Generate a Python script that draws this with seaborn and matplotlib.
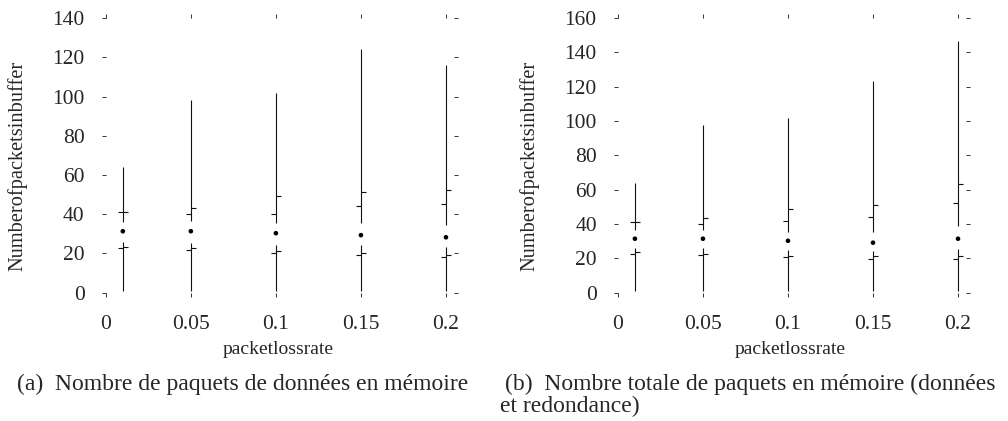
import seaborn as sns
import matplotlib.pyplot as plt
import pandas as pd
import numpy as np

# Minimal (Tufte-style) box plots: packets in buffer vs packet loss rate

loss_rate = [0.01, 0.05, 0.1, 0.15, 0.2]

# (a) data packets in buffer
a_min = [1, 1, 1, 1, 1]
a_gap_low = [26.0, 25.5, 24.3, 24.3, 23.5]
a_median = [31.3, 31.3, 30.3, 29.3, 28.2]
a_gap_high = [36.2, 36.7, 35.7, 35.7, 34.4]
a_max = [64.3, 98.3, 102.0, 124.1, 116.0]
a_low_left = [22.8, 21.8, 20.4, 19.4, 18.4]
a_low_right = [23.1, 22.6, 21.4, 20.4, 19.4]
a_high_left = [41.3, 40.3, 40.3, 44.2, 45.4]
a_high_right = [41.3, 43.4, 49.3, 51.2, 52.2]

# (b) total packets in buffer (data + redundancy)
b_min = [1, 1, 1, 1, 1]
b_gap_low = [25.8, 25.8, 24.8, 24.4, 25.2]
b_median = [31.4, 31.4, 30.2, 29.1, 31.4]
b_gap_high = [36.4, 36.4, 35.4, 35.4, 39.1]
b_max = [63.9, 97.6, 101.9, 123.6, 146.4]
b_low_left = [22.3, 22.0, 20.9, 19.4, 19.4]
b_low_right = [23.4, 22.5, 21.3, 21.3, 21.3]
b_high_left = [41.3, 40.1, 41.5, 44.2, 52.3]
b_high_right = [41.3, 43.2, 49.0, 51.1, 63.3]

x_ticks = [0, 0.05, 0.1, 0.15, 0.2]
x_ticklabels = ["0", "0.05", "0.1", "0.15", "0.2"]

sns.set_theme(style="white")
plt.rcParams['font.family'] = ['Liberation Serif', 'DejaVu Serif']

fig = plt.figure(figsize=(10.08, 4.21), dpi=100)
ax_a = fig.add_axes([0.105, 0.305, 0.345, 0.652])
ax_b = fig.add_axes([0.613, 0.305, 0.345, 0.652])

TICK = 0.0028
LINE = "#111111"


def draw_panel(ax, lo, glo, med, ghi, hi, lol, lor, hil, hir, ymax):
    df = pd.DataFrame({"rate": loss_rate, "median": med})
    x = np.array(loss_rate)
    ax.vlines(x, lo, glo, color=LINE, lw=0.8)
    ax.vlines(x, ghi, hi, color=LINE, lw=0.8)
    ax.hlines(lol, x - TICK, x, color=LINE, lw=0.8)
    ax.hlines(hil, x - TICK, x, color=LINE, lw=0.8)
    ax.hlines(lor, x, x + TICK, color=LINE, lw=0.8)
    ax.hlines(hir, x, x + TICK, color=LINE, lw=0.8)
    sns.scatterplot(data=df, x="rate", y="median", ax=ax, color="black",
                    s=11, edgecolor="none", zorder=3)
    ax.set_xlim(0, 0.2045)
    ax.set_ylim(0, ymax)
    ax.set_xticks(x_ticks)
    ax.set_xticklabels(x_ticklabels)
    ax.set_yticks(np.arange(0, ymax + 1, 20))
    for s in ax.spines.values():
        s.set_visible(False)
    ax.tick_params(axis="both", which="both", direction="out", length=3.2,
                   width=0.7, color="#333333", top=True, right=True,
                   bottom=True, left=True, labelsize=15.5, pad=12)
    ax.tick_params(axis="x", pad=13)
    ax.set_xlabel("")
    ax.set_ylabel("")


draw_panel(ax_a, a_min, a_gap_low, a_median, a_gap_high, a_max,
           a_low_left, a_low_right, a_high_left, a_high_right, 140)
draw_panel(ax_b, b_min, b_gap_low, b_median, b_gap_high, b_max,
           b_low_left, b_low_right, b_high_left, b_high_right, 160)

# axis labels
fig.text(18 / 1008, 1 - 166 / 421, "Numberofpacketsinbuffer", rotation=90,
         ha="center", va="center", fontsize=14.7)
fig.text(530 / 1008, 1 - 166 / 421, "Numberofpacketsinbuffer", rotation=90,
         ha="center", va="center", fontsize=14.7)
fig.text(278 / 1008, 1 - 349 / 421, "packetlossrate", ha="center",
         va="center", fontsize=14)
fig.text(790 / 1008, 1 - 349 / 421, "packetlossrate", ha="center",
         va="center", fontsize=14)

# sub-captions
fig.text(17 / 1008, 1 - 390 / 421,
         "(a)  Nombre de paquets de données en mémoire",
         ha="left", va="baseline", fontsize=17)
fig.text(505 / 1008, 1 - 390 / 421,
         "(b)  Nombre totale de paquets en mémoire (données",
         ha="left", va="baseline", fontsize=17)
fig.text(500 / 1008, 1 - 412 / 421, "et redondance)",
         ha="left", va="baseline", fontsize=17)

fig.savefig("out.png", dpi=100)
